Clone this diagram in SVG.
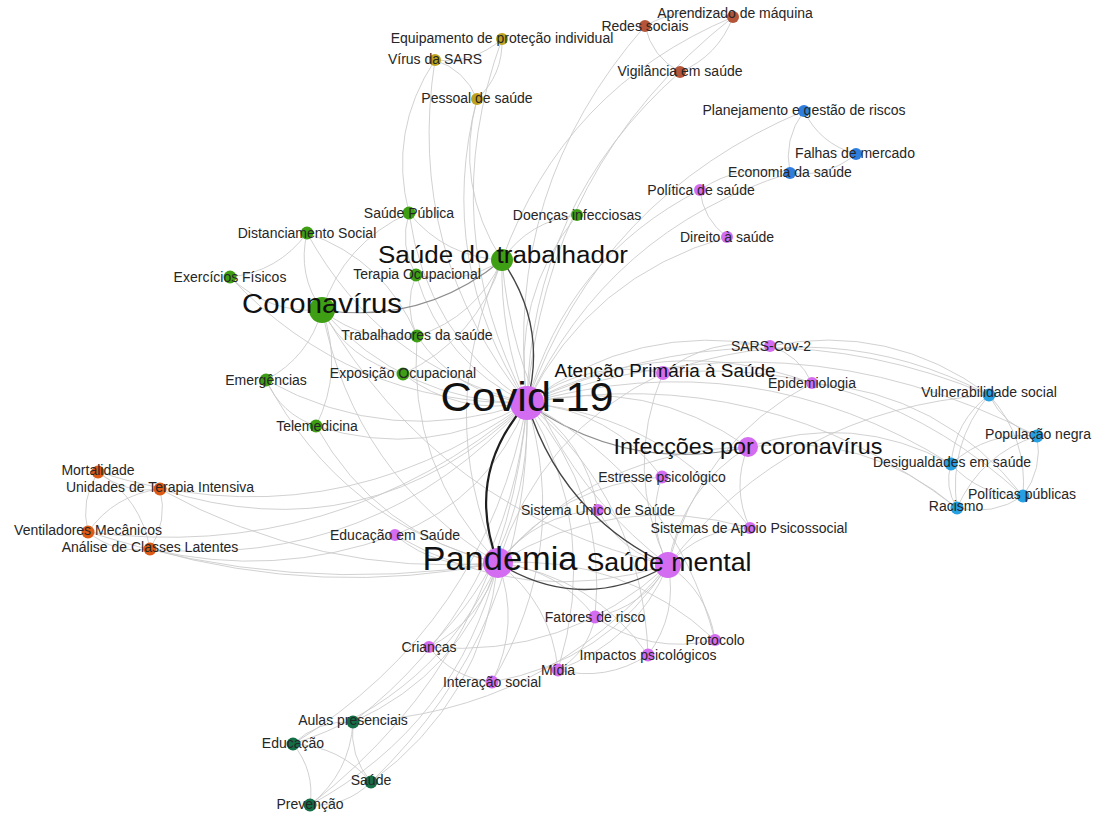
<svg xmlns="http://www.w3.org/2000/svg" width="1096" height="813" viewBox="0 0 1096 813">
<style>
  .bg { fill: #ffffff; }
  .e { fill: none; stroke: #c9c9c9; stroke-width: 0.85; }
  .em { fill: none; stroke: #8e8e8e; stroke-width: 1.1; }
  .ed { fill: none; stroke: #444444; stroke-width: 1.35; }
  .et { fill: none; stroke: #1e1e1e; stroke-width: 2.2; }
  .lbl { font-family: "Liberation Sans", Arial, sans-serif; font-size: 14px; fill: #262626; text-anchor: middle; }
  .big { font-family: "Liberation Sans", Arial, sans-serif; fill: #111111; text-anchor: middle; }
  .pu { fill: #d36cf0; }
  .gr { fill: #3e9f14; }
  .ol { fill: #bea21e; }
  .br { fill: #b4553a; }
  .bl { fill: #2f7ddc; }
  .sk { fill: #27a0e1; }
  .or { fill: #dc5a14; }
  .tl { fill: #146e46; }
</style>
<rect class="bg" x="0" y="0" width="1096" height="813"/>

<g id="connectors">
  <!-- edges into Covid-19 -->
  <path class="e" d="M502 260 Q500 334 527 403"/>
  <path class="e" d="M322 310 Q404 402 527 403"/>
  <path class="e" d="M409 213 Q426 334 527 403"/>
  <path class="e" d="M307 233 Q380 366 527 403"/>
  <path class="e" d="M416 275 Q443 363 527 403"/>
  <path class="e" d="M577 215 Q511 298 527 403"/>
  <path class="e" d="M417 336 Q457 394 527 403"/>
  <path class="e" d="M403 374 Q459 416 527 403"/>
  <path class="e" d="M266 380 Q391 449 527 403"/>
  <path class="e" d="M316 426 Q427 461 527 403"/>
  <path class="e" d="M477 99 Q435 262 527 403"/>
  <path class="e" d="M435 60 Q405 252 527 403"/>
  <path class="e" d="M502 39 Q434 226 527 403"/>
  <path class="e" d="M645 26 Q503 188 527 403"/>
  <path class="e" d="M733 17 Q545 165 527 403"/>
  <path class="e" d="M680 72 Q531 204 527 403"/>
  <path class="e" d="M804 111 Q601 196 527 403"/>
  <path class="e" d="M790 173 Q608 230 527 403"/>
  <path class="e" d="M700 190 Q567 258 527 403"/>
  <path class="e" d="M727 237 Q590 276 527 403"/>
  <path class="e" d="M770 346 Q636 321 527 403"/>
  <path class="e" d="M812 383 Q665 330 527 403"/>
  <path class="e" d="M989 395 Q756 297 527 403"/>
  <path class="e" d="M951 464 Q752 340 527 403"/>
  <path class="e" d="M1037 436 Q789 307 527 403"/>
  <path class="e" d="M663 373 Q588 358 527 403"/>
  <path class="em" d="M527 403 Q628 474 748 447"/>
  <path class="e" d="M748 447 Q647 376 527 403"/>
  <path class="e" d="M662 477 Q611 410 527 403"/>
  <path class="e" d="M598 510 Q586 441 527 403"/>
  <path class="e" d="M750 528 Q666 416 527 403"/>
  <path class="e" d="M160 489 Q369 556 527 403"/>
  <path class="e" d="M98 472 Q330 545 527 403"/>
  <path class="e" d="M150 549 Q375 570 527 403"/>
  <path class="e" d="M395 535 Q490 498 527 403"/>
  <path class="e" d="M429 647 Q532 547 527 403"/>
  <path class="e" d="M492 682 Q571 550 527 403"/>
  <path class="e" d="M595 617 Q608 495 527 403"/>
  <path class="e" d="M648 655 Q643 502 527 403"/>
  <path class="e" d="M353 722 Q510 601 527 403"/>
  <path class="e" d="M293 744 Q485 625 527 403"/>
  <path class="e" d="M371 782 Q532 627 527 403"/>
  <path class="e" d="M558 670 Q601 530 527 403"/>
  <path class="e" d="M715 640 Q673 480 527 403"/>
  <path class="e" d="M230 277 Q351 405 527 403"/>
  <path class="e" d="M88 532 Q336 564 527 403"/>
  <path class="e" d="M957 508 Q765 361 527 403"/>
  <path class="e" d="M310 805 Q507 652 527 403"/>

  <!-- edges into Pandemia -->
  <path class="e" d="M322 310 Q354 475 498 563"/>
  <path class="e" d="M502 260 Q433 411 498 563"/>
  <path class="e" d="M316 426 Q377 535 498 563"/>
  <path class="e" d="M266 380 Q342 523 498 563"/>
  <path class="e" d="M395 535 Q440 572 498 563"/>
  <path class="e" d="M88 532 Q289 597 498 563"/>
  <path class="e" d="M150 549 Q322 598 498 563"/>
  <path class="e" d="M429 647 Q482 620 498 563"/>
  <path class="e" d="M492 682 Q521 624 498 563"/>
  <path class="e" d="M558 670 Q551 603 498 563"/>
  <path class="e" d="M595 617 Q558 569 498 563"/>
  <path class="e" d="M648 655 Q593 576 498 563"/>
  <path class="e" d="M715 640 Q623 554 498 563"/>
  <path class="e" d="M353 722 Q460 674 498 563"/>
  <path class="e" d="M293 744 Q435 698 498 563"/>
  <path class="e" d="M371 782 Q483 700 498 563"/>
  <path class="e" d="M310 805 Q457 725 498 563"/>
  <path class="e" d="M598 510 Q536 514 498 563"/>
  <path class="e" d="M662 477 Q561 484 498 563"/>
  <path class="e" d="M750 528 Q616 490 498 563"/>
  <path class="e" d="M748 447 Q597 450 498 563"/>
  <path class="e" d="M663 373 Q539 432 498 563"/>
  <path class="e" d="M417 336 Q407 467 498 563"/>
  <path class="e" d="M160 489 Q318 577 498 563"/>

  <!-- edges into Saúde mental -->
  <path class="e" d="M662 477 Q646 522 668 565"/>
  <path class="e" d="M750 528 Q701 528 668 565"/>
  <path class="e" d="M595 617 Q643 607 668 565"/>
  <path class="e" d="M648 655 Q678 614 668 565"/>
  <path class="e" d="M715 640 Q708 592 668 565"/>
  <path class="e" d="M558 670 Q636 641 668 565"/>
  <path class="e" d="M492 682 Q606 662 668 565"/>
  <path class="e" d="M429 647 Q566 659 668 565"/>
  <path class="e" d="M748 447 Q682 488 668 565"/>
  <path class="e" d="M598 510 Q621 553 668 565"/>
  <path class="e" d="M502 260 Q518 449 668 565"/>
  <path class="e" d="M663 373 Q623 470 668 565"/>
  <path class="e" d="M322 310 Q439 513 668 565"/>
  <path class="e" d="M395 535 Q525 610 668 565"/>
  <path class="e" d="M812 383 Q700 442 668 565"/>
  <path class="e" d="M989 395 Q791 409 668 565"/>
  <path class="e" d="M353 722 Q545 713 668 565"/>

  <!-- right-hand cluster -->
  <path class="e" d="M951 464 Q853 411 748 447"/>
  <path class="e" d="M957 508 Q866 431 748 447"/>
  <path class="e" d="M989 395 Q831 312 663 373"/>
  <path class="e" d="M989 395 Q890 322 770 346"/>
  <path class="e" d="M1023 496 Q870 355 663 373"/>
  <path class="e" d="M1023 496 Q942 393 812 383"/>
  <path class="e" d="M812 383 Q799 355 770 346"/>
  <path class="e" d="M989 395 Q1004 426 1037 436"/>
  <path class="e" d="M989 395 Q955 421 951 464"/>
  <path class="e" d="M989 395 Q948 444 957 508"/>
  <path class="e" d="M989 395 Q1028 438 1023 496"/>
  <path class="e" d="M1037 436 Q988 431 951 464"/>
  <path class="e" d="M1037 436 Q1043 469 1023 496"/>
  <path class="e" d="M1037 436 Q981 454 957 508"/>
  <path class="e" d="M951 464 Q944 487 957 508"/>
  <path class="e" d="M951 464 Q980 496 1023 496"/>
  <path class="e" d="M957 508 Q993 516 1023 496"/>

  <!-- purple cluster, minor links -->
  <path class="e" d="M700 190 Q703 219 727 237"/>
  <path class="e" d="M770 346 Q710 336 663 373"/>
  <path class="e" d="M790 173 Q741 162 700 190"/>
  <path class="e" d="M429 647 Q453 678 492 682"/>
  <path class="e" d="M558 670 Q588 652 595 617"/>
  <path class="e" d="M558 670 Q606 682 648 655"/>
  <path class="e" d="M595 617 Q650 655 715 640"/>
  <path class="e" d="M748 447 Q731 488 750 528"/>

  <!-- green cluster -->
  <path class="e" d="M230 277 Q278 272 307 233"/>
  <path class="e" d="M230 277 Q269 314 322 310"/>
  <path class="e" d="M307 233 Q297 275 322 310"/>
  <path class="e" d="M417 336 Q385 260 307 233"/>
  <path class="e" d="M266 380 Q309 357 322 310"/>
  <path class="e" d="M316 426 Q344 369 322 310"/>
  <path class="e" d="M266 380 Q281 414 316 426"/>
  <path class="e" d="M409 213 Q399 246 416 275"/>
  <path class="e" d="M322 310 Q364 344 417 336"/>
  <path class="e" d="M322 310 Q348 360 403 374"/>
  <path class="e" d="M416 275 Q403 306 417 336"/>
  <path class="e" d="M416 275 Q462 286 502 260"/>
  <path class="e" d="M409 213 Q445 257 502 260"/>
  <path class="e" d="M577 215 Q529 221 502 260"/>
  <path class="e" d="M409 213 Q344 243 322 310"/>
  <path class="e" d="M403 374 Q477 339 502 260"/>
  <path class="e" d="M417 336 Q476 317 502 260"/>

  <!-- olive cluster -->
  <path class="e" d="M435 60 Q473 64 502 39"/>
  <path class="e" d="M435 60 Q465 70 477 99"/>
  <path class="e" d="M477 99 Q503 75 502 39"/>
  <path class="e" d="M435 60 Q388 131 409 213"/>
  <path class="e" d="M477 99 Q454 185 502 260"/>

  <!-- brown cluster -->
  <path class="e" d="M645 26 Q652 57 680 72"/>
  <path class="e" d="M733 17 Q687 2 645 26"/>
  <path class="e" d="M680 72 Q718 56 733 17"/>
  <path class="e" d="M733 17 Q564 88 502 260"/>

  <!-- blue cluster -->
  <path class="e" d="M804 111 Q820 144 856 154"/>
  <path class="e" d="M804 111 Q783 139 790 173"/>
  <path class="e" d="M790 173 Q827 178 856 154"/>

  <!-- orange cluster -->
  <path class="e" d="M98 472 Q125 494 160 489"/>
  <path class="e" d="M98 472 Q80 500 88 532"/>
  <path class="e" d="M160 489 Q114 495 88 532"/>
  <path class="e" d="M150 549 Q168 521 160 489"/>
  <path class="e" d="M88 532 Q115 554 150 549"/>
  <path class="e" d="M150 549 Q141 499 98 472"/>
  <path class="e" d="M150 549 Q274 579 395 535"/>

  <!-- teal cluster -->
  <path class="e" d="M353 722 Q318 720 293 744"/>
  <path class="e" d="M353 722 Q349 756 371 782"/>
  <path class="e" d="M371 782 Q340 746 293 744"/>
  <path class="e" d="M310 805 Q315 771 293 744"/>
  <path class="e" d="M310 805 Q346 807 371 782"/>
  <path class="e" d="M310 805 Q350 773 353 722"/>

  <!-- stronger links between the main hubs -->
  <path class="em" d="M322 310 Q423 325 502 260"/>
  <path class="ed" d="M527 403 Q548 326 502 260"/>
  <path class="ed" d="M527 403 Q562 515 668 565"/>
  <path class="ed" d="M498 563 Q582 615 668 565"/>
  <path class="et" d="M527 403 Q464 474 498 563"/>
</g>

<!-- purple community -->
<g id="n-covid19"><circle class="pu" cx="527" cy="403" r="17"/><text class="big" x="527" y="411" font-size="40" textLength="173" lengthAdjust="spacingAndGlyphs">Covid-19</text></g>
<g id="n-pandemia"><circle class="pu" cx="498" cy="563" r="15"/><text class="big" x="500" y="570" font-size="33" textLength="155" lengthAdjust="spacingAndGlyphs">Pandemia</text></g>
<g id="n-saude-mental"><circle class="pu" cx="668" cy="565" r="13"/><text class="big" x="669" y="571" font-size="25" textLength="165" lengthAdjust="spacingAndGlyphs">Saúde mental</text></g>
<g id="n-infeccoes"><circle class="pu" cx="748" cy="447" r="10"/><text class="big" x="748" y="454" font-size="22" textLength="269" lengthAdjust="spacingAndGlyphs">Infecções por coronavírus</text></g>
<g id="n-aps"><circle class="pu" cx="663" cy="373" r="7"/><text class="big" x="665" y="377" font-size="18" textLength="221" lengthAdjust="spacingAndGlyphs">Atenção Primária à Saúde</text></g>
<g id="n-sars-cov-2"><circle class="pu" cx="770" cy="346" r="6"/><text class="lbl" x="771" y="351">SARS-Cov-2</text></g>
<g id="n-epidemiologia"><circle class="pu" cx="812" cy="383" r="6"/><text class="lbl" x="812" y="388">Epidemiologia</text></g>
<g id="n-estresse"><circle class="pu" cx="662" cy="477" r="6.5"/><text class="lbl" x="662" y="482">Estresse psicológico</text></g>
<g id="n-sus"><circle class="pu" cx="598" cy="510" r="6"/><text class="lbl" x="598" y="515">Sistema Único de Saúde</text></g>
<g id="n-apoio"><circle class="pu" cx="750" cy="528" r="6"/><text class="lbl" x="749" y="533">Sistemas de Apoio Psicossocial</text></g>
<g id="n-educacao-saude"><circle class="pu" cx="395" cy="535" r="6"/><text class="lbl" x="395" y="540">Educação em Saúde</text></g>
<g id="n-politica"><circle class="pu" cx="700" cy="190" r="6"/><text class="lbl" x="701" y="195">Política de saúde</text></g>
<g id="n-direito"><circle class="pu" cx="727" cy="237" r="6"/><text class="lbl" x="727" y="242">Direito à saúde</text></g>
<g id="n-fatores"><circle class="pu" cx="595" cy="617" r="6.5"/><text class="lbl" x="595" y="622">Fatores de risco</text></g>
<g id="n-protocolo"><circle class="pu" cx="715" cy="640" r="6"/><text class="lbl" x="715" y="645">Protocolo</text></g>
<g id="n-impactos"><circle class="pu" cx="648" cy="655" r="6.5"/><text class="lbl" x="648" y="660">Impactos psicológicos</text></g>
<g id="n-midia"><circle class="pu" cx="558" cy="670" r="6.5"/><text class="lbl" x="558" y="675">Mídia</text></g>
<g id="n-interacao"><circle class="pu" cx="492" cy="682" r="6.5"/><text class="lbl" x="492" y="687">Interação social</text></g>
<g id="n-criancas"><circle class="pu" cx="429" cy="647" r="6"/><text class="lbl" x="429" y="652">Crianças</text></g>

<!-- green community -->
<g id="n-saude-trabalhador"><circle class="gr" cx="502" cy="260" r="11"/><text class="big" x="503" y="263" font-size="23" textLength="250" lengthAdjust="spacingAndGlyphs">Saúde do trabalhador</text></g>
<g id="n-coronavirus"><circle class="gr" cx="322" cy="310" r="13"/><text class="big" x="322" y="313" font-size="27" textLength="160" lengthAdjust="spacingAndGlyphs">Coronavírus</text></g>
<g id="n-saude-publica"><circle class="gr" cx="409" cy="213" r="6.5"/><text class="lbl" x="409" y="218">Saúde Pública</text></g>
<g id="n-distanciamento"><circle class="gr" cx="307" cy="233" r="6.5"/><text class="lbl" x="307" y="238">Distanciamento Social</text></g>
<g id="n-exercicios"><circle class="gr" cx="230" cy="277" r="6.5"/><text class="lbl" x="230" y="282">Exercícios Físicos</text></g>
<g id="n-terapia"><circle class="gr" cx="416" cy="275" r="6.5"/><text class="lbl" x="417" y="279">Terapia Ocupacional</text></g>
<g id="n-doencas"><circle class="gr" cx="577" cy="215" r="6"/><text class="lbl" x="577" y="220">Doenças infecciosas</text></g>
<g id="n-trabalhadores"><circle class="gr" cx="417" cy="336" r="6.5"/><text class="lbl" x="417" y="340">Trabalhadores da saúde</text></g>
<g id="n-exposicao"><circle class="gr" cx="403" cy="374" r="6.5"/><text class="lbl" x="403" y="378">Exposição Ocupacional</text></g>
<g id="n-emergencias"><circle class="gr" cx="266" cy="380" r="6.5"/><text class="lbl" x="266" y="385">Emergências</text></g>
<g id="n-telemedicina"><circle class="gr" cx="316" cy="426" r="6.5"/><text class="lbl" x="317" y="431">Telemedicina</text></g>

<!-- olive community -->
<g id="n-epi"><circle class="ol" cx="502" cy="39" r="6"/><text class="lbl" x="502" y="43">Equipamento de proteção individual</text></g>
<g id="n-virus-sars"><circle class="ol" cx="435" cy="60" r="6"/><text class="lbl" x="435" y="64">Vírus da SARS</text></g>
<g id="n-pessoal"><circle class="ol" cx="477" cy="99" r="6"/><text class="lbl" x="477" y="103">Pessoal de saúde</text></g>

<!-- brown community -->
<g id="n-redes"><circle class="br" cx="645" cy="26" r="6"/><text class="lbl" x="645" y="31">Redes sociais</text></g>
<g id="n-aprendizado"><circle class="br" cx="733" cy="17" r="6"/><text class="lbl" x="735" y="18">Aprendizado de máquina</text></g>
<g id="n-vigilancia"><circle class="br" cx="680" cy="72" r="6"/><text class="lbl" x="680" y="76">Vigilância em saúde</text></g>

<!-- blue community -->
<g id="n-planejamento"><circle class="bl" cx="804" cy="111" r="6"/><text class="lbl" x="804" y="115">Planejamento e gestão de riscos</text></g>
<g id="n-falhas"><circle class="bl" cx="856" cy="154" r="6"/><text class="lbl" x="855" y="158">Falhas de mercado</text></g>
<g id="n-economia"><circle class="bl" cx="790" cy="173" r="6"/><text class="lbl" x="790" y="177">Economia da saúde</text></g>

<!-- light blue community -->
<g id="n-vulnerabilidade"><circle class="sk" cx="989" cy="395" r="6.5"/><text class="lbl" x="989" y="397">Vulnerabilidade social</text></g>
<g id="n-populacao-negra"><circle class="sk" cx="1037" cy="436" r="6.5"/><text class="lbl" x="1038" y="439">População negra</text></g>
<g id="n-desigualdades"><circle class="sk" cx="951" cy="464" r="6.5"/><text class="lbl" x="952" y="467">Desigualdades em saúde</text></g>
<g id="n-politicas-publicas"><circle class="sk" cx="1023" cy="496" r="6.5"/><text class="lbl" x="1022" y="499">Políticas públicas</text></g>
<g id="n-racismo"><circle class="sk" cx="957" cy="508" r="6.5"/><text class="lbl" x="956" y="511">Racismo</text></g>

<!-- orange community -->
<g id="n-mortalidade"><circle class="or" cx="98" cy="472" r="6.5"/><text class="lbl" x="98" y="475">Mortalidade</text></g>
<g id="n-uti"><circle class="or" cx="160" cy="489" r="6.5"/><text class="lbl" x="160" y="492">Unidades de Terapia Intensiva</text></g>
<g id="n-ventiladores"><circle class="or" cx="88" cy="532" r="6.5"/><text class="lbl" x="88" y="535">Ventiladores Mecânicos</text></g>
<g id="n-analise"><circle class="or" cx="150" cy="549" r="6.5"/><text class="lbl" x="150" y="552">Análise de Classes Latentes</text></g>

<!-- teal community -->
<g id="n-aulas"><circle class="tl" cx="353" cy="722" r="6.5"/><text class="lbl" x="353" y="725">Aulas presenciais</text></g>
<g id="n-educacao"><circle class="tl" cx="293" cy="744" r="6.5"/><text class="lbl" x="293" y="748">Educação</text></g>
<g id="n-saude"><circle class="tl" cx="371" cy="782" r="6.5"/><text class="lbl" x="371" y="785">Saúde</text></g>
<g id="n-prevencao"><circle class="tl" cx="310" cy="805" r="6.5"/><text class="lbl" x="310" y="809">Prevenção</text></g>
</svg>
